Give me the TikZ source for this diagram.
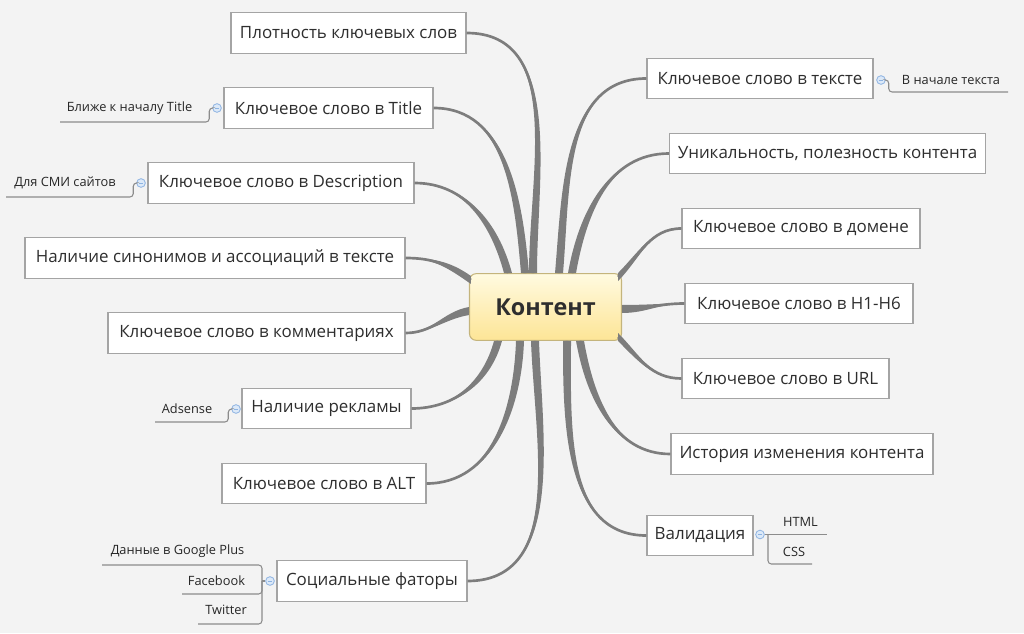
\documentclass[tikz,border=0pt]{standalone}
\usepackage{fontspec}
\setmainfont{Open Sans}
\usetikzlibrary{calc}
\definecolor{bgcol}{HTML}{F3F3F3}
\definecolor{edgecol}{HTML}{7D7D7D}
\definecolor{boxline}{HTML}{A4A4A4}
\definecolor{sublinecol}{HTML}{8C8C8C}
\definecolor{dotfill}{HTML}{DCE9F8}
\definecolor{dotline}{HTML}{8DB3E2}
\definecolor{topictop}{HTML}{FFFAE0}
\definecolor{topicbot}{HTML}{FDE596}
\definecolor{topicline}{HTML}{C4B47C}
\definecolor{textcol}{HTML}{2E2E2E}

% tapered branch: start anchor, shift, half width, out, in, target
\newcommand{\branch}[6]{%
  \fill[edgecol] ($(#1)+(#2)+(#3)$) to[out=#4,in=#5] (#6) to[out=#5,in=#4] ($(#1)+(#2)-(#3)$) -- cycle;
  \draw[edge] ($(#1)+(#2)$) to[out=#4,in=#5] (#6);}

\begin{document}
\begin{tikzpicture}[x=0.75pt, y=0.75pt]
\tikzset{box/.style = {draw=boxline, fill=white, line width=0.9pt, minimum height=30.5pt, inner sep=0pt, text=textcol, font=\fontsize{12.7}{15}\selectfont}}
\tikzset{topic/.style = {draw=topicline, rounded corners=5pt, top color=topictop, bottom color=topicbot, line width=0.8pt, minimum width=114pt, minimum height=50pt, text=textcol, font=\fontsize{17.5}{20}\selectfont\bfseries}}
\tikzset{sub/.style = {inner sep=0pt, text=black!85, font=\fontsize{9.6}{11}\selectfont}}
\tikzset{dot/.style = {circle, draw=dotline, fill=dotfill, line width=0.6pt, minimum size=6.5pt, inner sep=0pt,
    path picture={\draw[dotline, line width=0.6pt] ([xshift=-1.6pt]path picture bounding box.center) -- ([xshift=1.6pt]path picture bounding box.center);}}}
\tikzset{edge/.style = {draw=edgecol, line width=2pt}}
\tikzset{subln/.style = {draw=sublinecol, line width=0.8pt, rounded corners=2.5pt}}

% background
\fill[bgcol] (0,0) rectangle (1024,633);

% central topic
\node[topic] (C) at (545.5,326) {Контент};

% left side
\node[box, minimum width=176.25pt] (plot) at (348.5,600) {Плотность ключевых слов};
\node[box, minimum width=156.75pt] (title) at (328.5,525) {Ключевое слово в Title};
\node[box, minimum width=199.5pt] (desc) at (281,450) {Ключевое слово в Description};
\node[box, minimum width=285pt] (sinon) at (215,375) {Наличие синонимов и ассоциаций в тексте};
\node[box, minimum width=222.75pt] (comm) at (256.5,300) {Ключевое слово в комментариях};
\node[box, minimum width=126.75pt] (rek) at (326.5,224.5) {Наличие рекламы};
\node[box, minimum width=153pt] (alt) at (324,149.5) {Ключевое слово в ALT};
\node[box, minimum width=142.5pt] (soc) at (372,52) {Социальные фаторы};

% right side
\node[box, minimum width=169.5pt] (tekst) at (760,554.5) {Ключевое слово в тексте};
\node[box, minimum width=237pt] (unik) at (827.5,479.5) {Уникальность, полезность контента};
\node[box, minimum width=178.5pt] (domen) at (801,404.5) {Ключевое слово в домене};
\node[box, minimum width=171pt] (hone) at (799,329.5) {Ключевое слово в H1-H6};
\node[box, minimum width=155.25pt] (url) at (785.5,254.5) {Ключевое слово в URL};
\node[box, minimum width=196.5pt] (hist) at (802,179) {История изменения контента};
\node[box, minimum width=79.5pt] (valid) at (700,97.5) {Валидация};

% branches
\branch{C.north}{-12.5,0}{4,0}{90}{0}{plot.east}
\branch{C.north}{-20.5,0}{4,0}{95}{0}{title.east}
\branch{C.north}{-37.5,0}{4,0}{105}{0}{desc.east}
\branch{C.west}{2,27}{0,4}{145}{0}{sinon.east}
\branch{C.west}{0,-4}{0,4}{190}{0}{comm.east}
\branch{C.south}{-47.5,0}{4,0}{255}{0}{rek.east}
\branch{C.south}{-25.5,0}{4,0}{268}{0}{alt.east}
\branch{C.south}{-10.5,0}{4,0}{272}{0}{soc.east}
\branch{C.north}{13.5,0}{4,0}{85}{180}{tekst.west}
\branch{C.north}{26.5,0}{4,0}{80}{180}{unik.west}
\branch{C.east}{-4,30}{0,4}{45}{180}{domen.west}
\branch{C.east}{0,-2}{0,4}{0}{180}{hone.west}
\branch{C.east}{-4,-30}{0,4}{-45}{180}{url.west}
\branch{C.south}{34.5,0}{4,0}{-80}{180}{hist.west}
\branch{C.south}{21.5,0}{4,0}{-90}{180}{valid.west}

% sub topics, left
\node[dot] (tdot) at (217,525) {};
\node[sub] (tsub) at (129.5,525) {Ближе к началу Title};
\coordinate (tend) at (60,511);
\draw[subln] (tdot.west) -- ++(-3,0) |- (tend);

\node[dot] (ddot) at (141,450) {};
\node[sub] (dsub) at (65,450) {Для СМИ сайтов};
\coordinate (dend) at (6,436);
\draw[subln] (ddot.west) -- ++(-3,0) |- (dend);

\node[dot] (adot) at (236,224) {};
\node[sub] (asub) at (187,224) {Adsense};
\coordinate (aend) at (155,211);
\draw[subln] (adot.west) -- ++(-3,0) |- (aend);

\node[dot] (sdot) at (270,52) {};
\node[sub] (gsub) at (177.5,82) {Данные в Google Plus};
\node[sub] (fsub) at (216.5,52) {Facebook};
\node[sub] (wsub) at (226,23) {Twitter};
\coordinate (sjoin) at (262,52);
\coordinate (gend) at (102,68);
\coordinate (fend) at (182,39);
\coordinate (wend) at (198,9);
\draw[subln] (sdot.west) -- (sjoin);
\draw[subln] (gend) -| (sjoin) |- (wend);
\draw[subln] (fend) -| (sjoin);

% sub topics, right
\node[dot] (kdot) at (881,553) {};
\node[sub] (ksub) at (951,553) {В начале текста};
\coordinate (kend) at (1008,541);
\draw[subln] (kdot.east) -- ++(3,0) |- (kend);

\node[dot] (vdot) at (760,98.5) {};
\node[sub] (hsub) at (800.5,111) {HTML};
\node[sub] (csub) at (794,81) {CSS};
\coordinate (vjoin) at (768,98.5);
\coordinate (hend) at (827,98.5);
\coordinate (cend) at (812,69);
\draw[subln] (vdot.east) -- (hend);
\draw[subln] (vjoin) |- (cend);

\end{tikzpicture}
\end{document}
